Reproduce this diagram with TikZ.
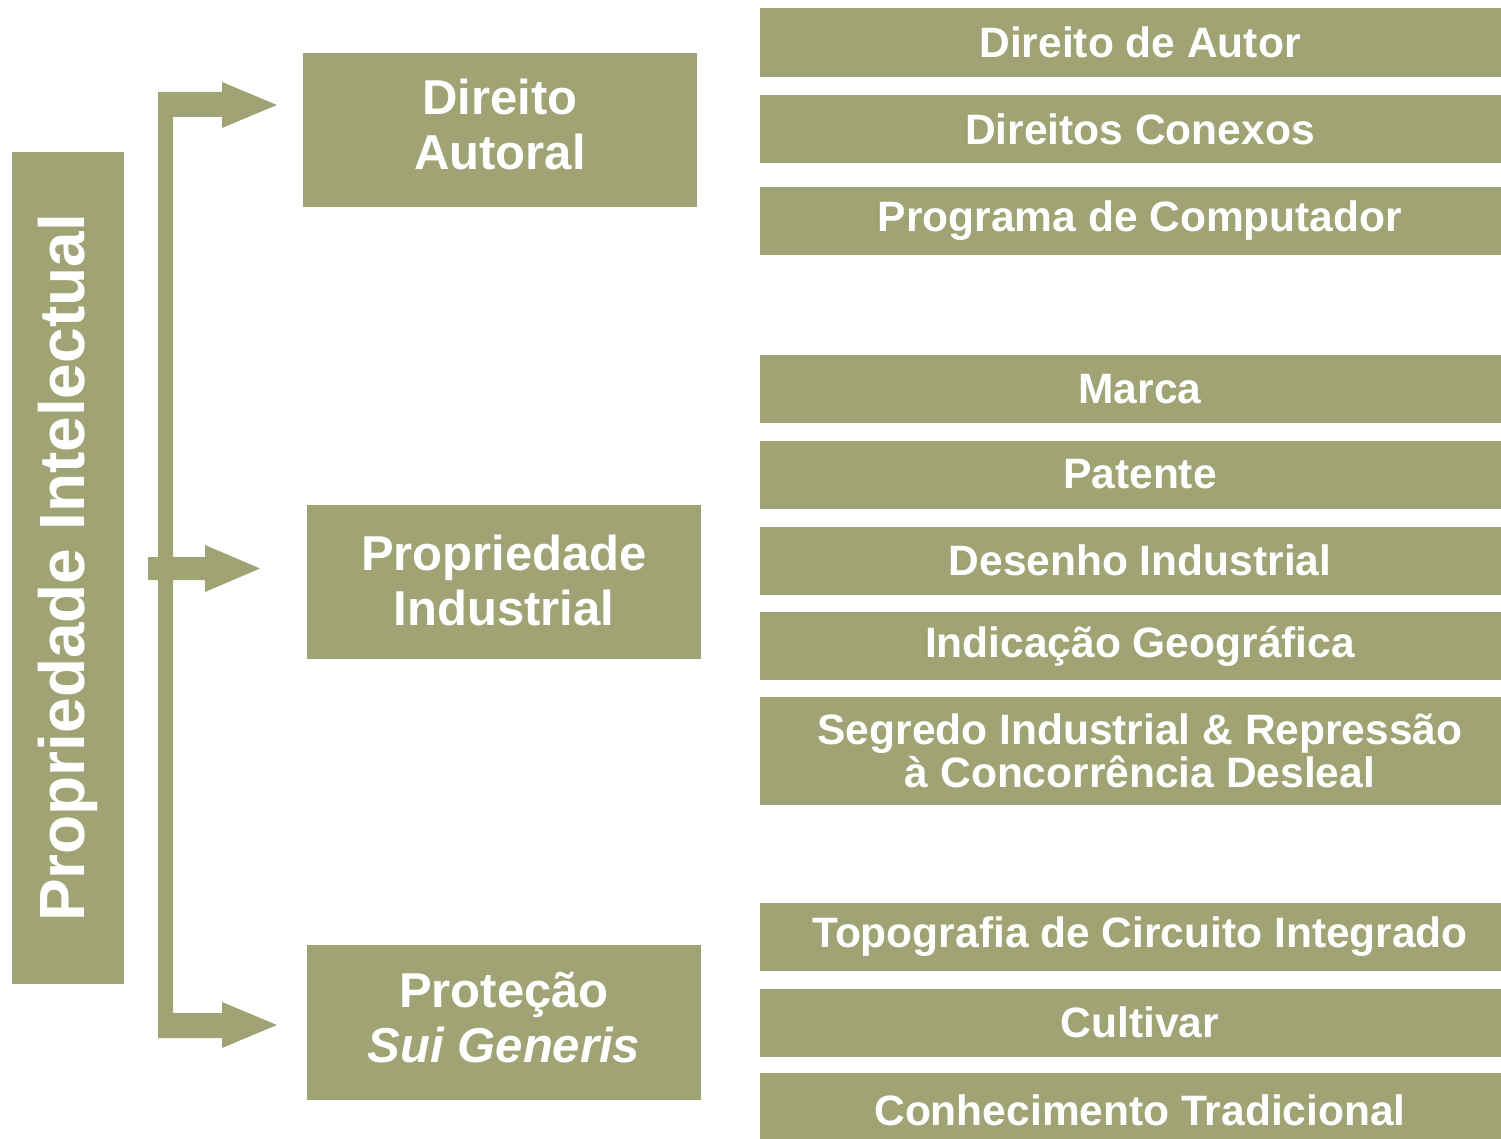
\documentclass[tikz,border=0pt]{standalone}
\usepackage{fontspec}
\setmainfont{Liberation Sans}
\definecolor{olv}{RGB}{160,164,117}
\newcommand{\lowpad}{\rule[-11pt]{0pt}{0pt}}
\begin{document}
\begin{tikzpicture}[x=1pt,y=-1pt,
  rbox/.style={fill=olv, text=white, font=\bfseries\fontsize{42.5}{43}\selectfont, align=center, inner sep=0pt, minimum width=760pt, minimum height=68pt},
  mbox/.style={fill=olv, text=white, font=\bfseries\fontsize{49}{55}\selectfont, align=center, inner sep=0pt, minimum width=394pt, minimum height=154pt},
  conn/.style={fill=olv}]
\useasboundingbox (0,0) rectangle (1501,1139);

% root
\node[fill=olv, text=white, rotate=90, inner sep=0pt, minimum width=832pt, minimum height=112pt,
      font=\bfseries\fontsize{64}{64}\selectfont] (pi) at (68,568) {Propriedade Intelectual};

% middle level
\node[mbox] (da) at (500,130) {Direito\\Autoral\lowpad};
\node[mbox] (pind) at (504,582) {Propriedade\\Industrial\rule[-4pt]{0pt}{0pt}};
\node[mbox, minimum height=155pt] (psg) at (504,1022.5) {Proteção\\\itshape Sui Generis\lowpad};

% right level
\node[rbox, minimum height=69pt] (r1) at (1140,42.5) {Direito de Autor};
\node[rbox] (r2) at (1140,129) {Direitos Conexos};
\node[rbox] (r3) at (1140,221) {Programa de Computador};
\node[rbox] (r4) at (1140,389) {Marca};
\node[rbox] (r5) at (1140,474.5) {Patente};
\node[rbox] (r6) at (1140,560.5) {Desenho Industrial};
\node[rbox] (r7) at (1140,646) {Indicação Geográfica};
\node[rbox, minimum height=108pt] (r8) at (1140,751) {Segredo Industrial \& Repressão\\à Concorrência Desleal};
\node[rbox] (r9) at (1140,936.5) {Topografia de Circuito Integrado};
\node[rbox] (r10) at (1140,1022.5) {Cultivar};
\node[rbox, minimum height=74pt] (r11) at (1140,1110) {Conhecimento Tradicional};

% connectors (fat arrows)
\coordinate (tip1) at (277,105);
\coordinate (tip2) at (260,568.5);
\coordinate (tip3) at (277,1025);
\fill[conn] (158,92) -- (222,92) -- (222,82) -- (tip1) -- (222,128) -- (222,117)
  -- (173,117) -- (173,1013) -- (222,1013) -- (222,1002) -- (tip3) -- (222,1048)
  -- (222,1038) -- (158,1038) -- cycle;
\fill[conn] (148,557) -- (205,557) -- (205,545) -- (tip2) -- (205,592) -- (205,580)
  -- (148,580) -- cycle;
\end{tikzpicture}
\end{document}
